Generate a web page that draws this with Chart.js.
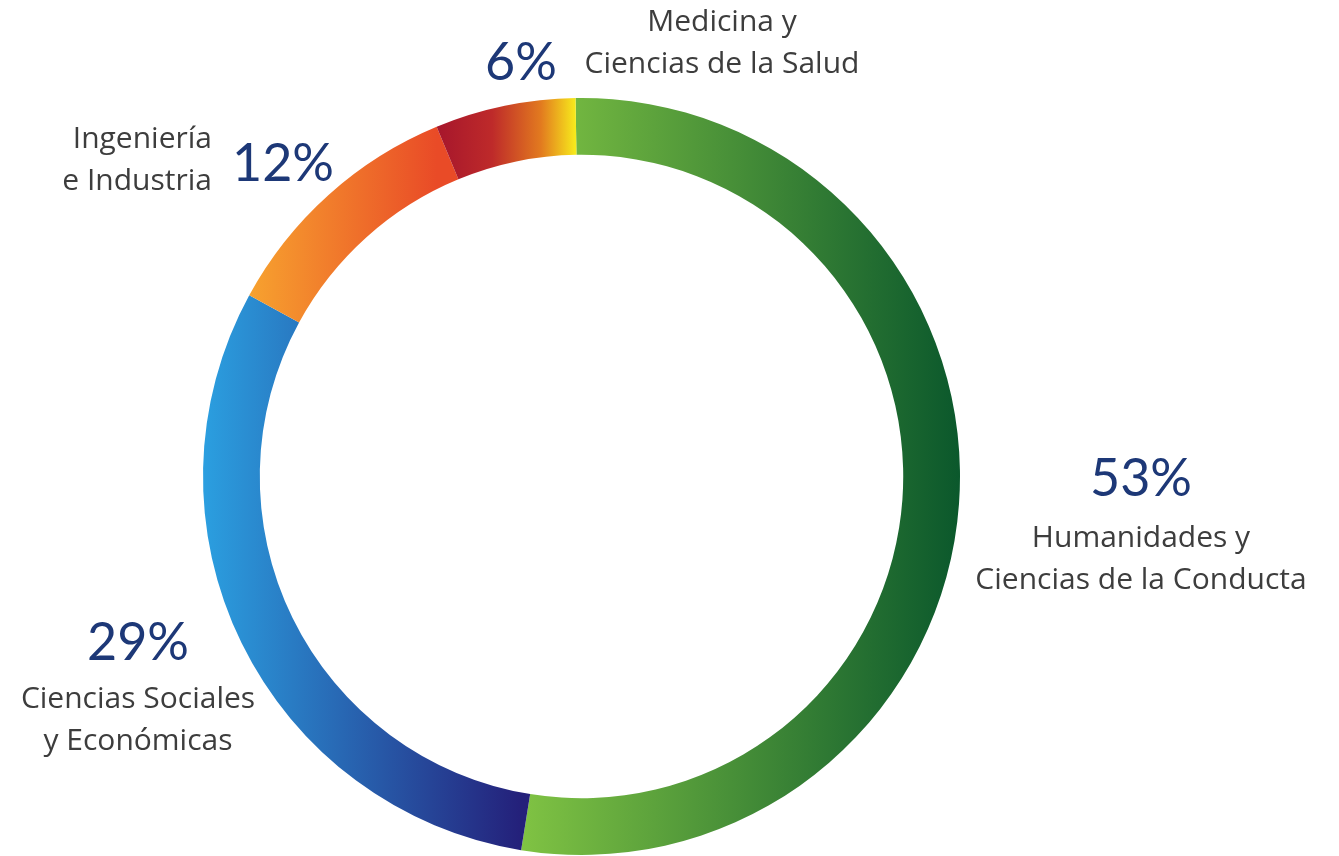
<!DOCTYPE html>
<html lang="es">
<head>
<meta charset="utf-8">
<title>Distribución por áreas</title>
<script src="https://cdn.jsdelivr.net/npm/chart.js@4"></script>
<style>
  html, body { margin: 0; padding: 0; background: #ffffff; }
  #contenedor { width: 1339px; height: 856px; position: relative; }
</style>
</head>
<body>
<div id="contenedor"><canvas id="rosco"></canvas></div>
<script>
const categorias = [
  ["Humanidades y", "Ciencias de la Conducta"],
  ["Ciencias Sociales", "y Económicas"],
  ["Ingeniería", "e Industria"],
  ["Medicina y", "Ciencias de la Salud"]
];
const porcentajes = [52.8, 30.4, 10.8, 6.0];
const etiquetasValor = ["53%", "29%", "12%", "6%"];

// Colores de cada segmento (degradado de izquierda a derecha)
const degradados = [
  [[0, "#80c343"], [1, "#0b582c"]],
  [[0, "#2b9fe0"], [1, "#24207a"]],
  [[0, "#f7a22f"], [1, "#e94b27"]],
  [[0, "#a6162c"], [0.4, "#be2a2a"], [0.75, "#e27a1f"], [1, "#f7ea1c"]]
];

// Rotación inicial del anillo (grados)
const giro = -0.9;

// Posición de los textos
const posTextos = [
  { vx: 1141, vy: 496, tx: 1141, ty: 547, align: "center" },
  { vx: 138, vy: 660, tx: 138, ty: 708, align: "center" },
  { vx: 232, vy: 181, tx: 212, ty: 148, align: "right" },
  { vx: 485, vy: 80, tx: 722, ty: 31, align: "center" }
];

function degradadoSegmento(context) {
  const chart = context.chart;
  const area = chart.chartArea;
  const i = context.dataIndex;
  if (!area) return degradados[i][0][1];

  const total = porcentajes.reduce((a, b) => a + b, 0);
  let antes = 0;
  for (let k = 0; k < i; k++) antes += porcentajes[k];
  const inicio = giro * Math.PI / 180 - Math.PI / 2;
  const a1 = inicio + antes / total * Math.PI * 2;
  const a2 = inicio + (antes + porcentajes[i]) / total * Math.PI * 2;

  const cx = (area.left + area.right) / 2;
  const r = Math.min(area.right - area.left, area.bottom - area.top) / 2;

  // Buscamos el x mínimo y máximo del arco
  let minX = Infinity, maxX = -Infinity;
  for (let s = 0; s <= 60; s++) {
    const a = a1 + (a2 - a1) * s / 60;
    const x = cx + r * Math.cos(a);
    minX = Math.min(minX, x);
    maxX = Math.max(maxX, x);
  }
  const g = chart.ctx.createLinearGradient(minX, 0, maxX, 0);
  degradados[i].forEach(p => g.addColorStop(p[0], p[1]));
  return g;
}

// Plugin para dibujar los porcentajes y los nombres
const textosPlugin = {
  id: "textos",
  afterDraw(chart) {
    const ctx = chart.ctx;
    ctx.save();
    ctx.textBaseline = "alphabetic";
    posTextos.forEach((p, i) => {
      ctx.fillStyle = "#1d3877";
      ctx.font = "52px Lato";
      ctx.textAlign = p.align === "center" && i < 2 ? "center" : "left";
      ctx.fillText(etiquetasValor[i], p.vx, p.vy);

      ctx.fillStyle = "#3d3d3d";
      ctx.font = "30px 'Open Sans'";
      ctx.textAlign = p.align;
      categorias[i].forEach((linea, j) => {
        ctx.fillText(linea, p.tx, p.ty + j * 42);
      });
    });
    ctx.restore();
  }
};

const config = {
  type: "doughnut",
  data: {
    labels: categorias.map(c => c.join(" ")),
    datasets: [{
      data: porcentajes,
      backgroundColor: degradadoSegmento,
      borderWidth: 0
    }]
  },
  options: {
    responsive: true,
    maintainAspectRatio: false,
    animation: false,
    cutout: "85%",
    rotation: giro,
    layout: { padding: { top: 98, bottom: 1, left: 0, right: 176 } },
    plugins: {
      legend: { display: false },
      tooltip: { enabled: false }
    }
  },
  plugins: [textosPlugin]
};

new Chart(document.getElementById("rosco"), config);
</script>
</body>
</html>
